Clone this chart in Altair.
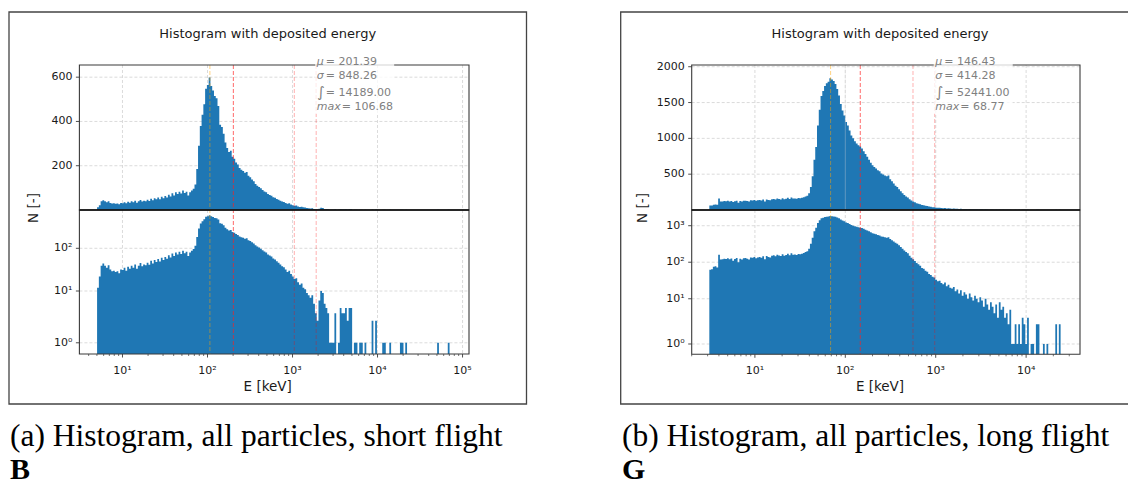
import altair as alt
import numpy as np
import pandas as pd

# ---------------- data ----------------
left_counts = [
    12, 22, 39, 44, 39, 35, 40, 32, 29, 30,
    28, 29, 26, 32, 31, 35, 30, 37, 33, 39,
    35, 42, 33, 39, 45, 38, 42, 40, 46, 41,
    51, 44, 53, 48, 56, 49, 60, 53, 63, 57,
    69, 61, 76, 66, 80, 72, 83, 74, 88, 77,
    83, 66, 80, 88, 96, 115, 185, 290, 380, 430,
    478, 548, 565, 598, 560, 540, 515, 505, 470, 385,
    375, 345, 305, 280, 262, 268, 240, 232, 215, 205,
    190, 182, 176, 168, 172, 155, 148, 138, 130, 118,
    110, 104, 98, 90, 84, 80, 72, 68, 64, 58,
    55, 50, 46, 42, 38, 36, 32, 28, 30, 25,
    22, 19, 20, 16, 14, 15, 12, 11, 9, 8,
    7, 8, 5, 3, 2, 6, 10, 9, 5, 4,
    3, 1, 1, 1, 3, 0, 1, 4, 3, 3,
    4, 2, 4, 4, 0, 1, 1, 0, 1, 1,
    0, 1, 0, 0, 0, 2, 0, 2, 0, 0,
    0, 1, 1, 0, 0, 1, 0, 0, 0, 0,
    0, 1, 1, 0, 1, 0, 0, 0, 0, 0,
    0, 0, 0, 0, 0, 0, 0, 0, 0, 0,
    0, 0, 1, 0, 0, 0, 0, 0, 1, 0,
]
right_counts = [
    62, 64, 75, 78, 72, 160, 118, 120, 125, 122,
    128, 120, 126, 110, 122, 130, 100, 125, 118, 128,
    130, 125, 118, 135, 132, 140, 128, 135, 140, 132,
    145, 120, 148, 140, 135, 150, 155, 145, 160, 152,
    148, 165, 150, 158, 170, 155, 175, 160, 162, 158,
    168, 165, 172, 178, 190, 200, 235, 320, 470, 700,
    880, 1180, 1400, 1590, 1660, 1730, 1770, 1790, 1840, 1820,
    1800, 1760, 1690, 1600, 1480, 1390, 1320, 1230, 1180, 1110,
    1040, 1000, 960, 930, 905, 885, 860, 820, 780, 745,
    700, 660, 625, 600, 580, 555, 540, 510, 495, 480,
    470, 480, 430, 400, 370, 340, 320, 290, 260, 235,
    210, 190, 175, 150, 132, 120, 108, 95, 88, 80,
    70, 66, 58, 55, 48, 45, 40, 38, 33, 30,
    31, 27, 25, 28, 22, 24, 20, 19, 21, 16,
    18, 14, 17, 12, 15, 13, 10, 14, 11, 9,
    12, 10, 8, 11, 9, 6, 10, 7, 5, 8,
    6, 4, 7, 3, 8, 5, 6, 3, 4, 2,
    5, 1, 1, 2, 1, 2, 1, 3, 2, 1,
    3, 0, 1, 1, 0, 2, 2, 0, 0, 1,
    0, 1, 0, 0, 0, 0, 2, 0, 2, 0,
]
# histogram binning: log10(E / keV) of first and last bin edge, 200 bins
left_log_range = [0.701, 4.868]
right_log_range = [0.496, 4.401]
N_BINS = 200

# mu, sigma, integral, max
left_stats = [201.39, 848.26, 14189.00, 106.68]
right_stats = [146.43, 414.28, 52441.00, 68.77]

left_x_exps = [1, 2, 3, 4, 5]
right_x_exps = [1, 2, 3, 4]
left_top_yticks = [200, 400, 600]
right_top_yticks = [500, 1000, 1500, 2000]
left_log_yticks = [1, 10, 100]
right_log_yticks = [1, 10, 100, 1000]
right_extra_line = [100]   # light grey marker line in the long-flight panel

title_text = "Histogram with deposited energy"
xlabel_text = "E [keV]"
ylabel_text = "N [-]"
captions = ["(a) Histogram, all particles, short flight",
            "(b) Histogram, all particles, long flight"]
letters = ["B", "G"]

SUP = {0: "\u2070", 1: "\u00b9", 2: "\u00b2", 3: "\u00b3", 4: "\u2074", 5: "\u2075"}

# ---------------- layout (pixels) ----------------
W, H = 1128, 484
PANELS = [
    dict(frame=(9, 12, 526.5, 404), px=(79.4, 469.0), xdom=(0.493, 5.076),
         ytop=(65, 210), ybot=(210, 354), topdom=655, L=1.6, tdom=(0.432, 3.804),
         center=267.7, ylab_x=33.8, cap_x=10),
    dict(frame=(620.7, 12, 1140, 404), px=(691.7, 1080.0), xdom=(0.301, 4.596),
         ytop=(65, 210), ybot=(210, 354.3), topdom=2024, L=1.8, tdom=(0.335, 4.286),
         center=880, ylab_x=643.3, cap_x=622),
]

BLUE = "#1f77b4"
GRID = "#d2d2d2"
SPINE = "#3a3a3a"
FONT = "DejaVu Sans"
SERIF = "Liberation Serif"
TICK_FS = 11


def one_row():
    return pd.DataFrame({"k": [0]})


def text_layer(txt, x, y, size, color="#1a1a1a", align="left", baseline="middle",
               font=FONT, style="normal", weight="normal", angle=0):
    kw = dict(text=txt, fontSize=size, color=color, align=align, baseline=baseline,
              font=font, fontStyle=style, fontWeight=weight)
    if angle:
        kw["angle"] = angle
    return alt.Chart(one_row()).mark_text(**kw).encode(x=alt.value(x), y=alt.value(y))


def rect_layer(x0, y0, x1, y1, stroke, sw, fill="white", fill_op=0.0, stroke_op=1.0):
    return alt.Chart(one_row()).mark_rect(
        fill=fill, fillOpacity=fill_op, stroke=stroke, strokeWidth=sw, strokeOpacity=stroke_op
    ).encode(x=alt.value(x0), x2=alt.value(x1), y=alt.value(y0), y2=alt.value(y1))


def t_expr(L, floor=None):
    c = 10.0 / 9.0
    core = f"(datum.n <= {L} ? datum.n / {L} * {c} : {c} + log(datum.n / {L}) / LN10)"
    if floor is None:
        return core
    return f"datum.n > 0 ? {core} : {floor}"


def build_panel(counts, log_range, stats, g, xexps, topticks, logticks, idx, extra=None):
    layers = []
    px0, px1 = g["px"]
    yt0, yt1 = g["ytop"]
    yb0, yb1 = g["ybot"]
    xs = alt.Scale(type="log", domain=[10 ** g["xdom"][0], 10 ** g["xdom"][1]],
                   range=[px0, px1], nice=False, zero=False)
    ys_top = alt.Scale(type="linear", domain=[0, g["topdom"]], range=[yt1, yt0],
                       nice=False, zero=False)
    ys_bot = alt.Scale(type="linear", domain=list(g["tdom"]), range=[yb1, yb0],
                       nice=False, zero=False)

    def px_of(E):
        return px0 + (np.log10(E) - g["xdom"][0]) / (g["xdom"][1] - g["xdom"][0]) * (px1 - px0)

    # histogram as a step outline: value of bin i holds from edge i to edge i+1
    edges = np.logspace(log_range[0], log_range[1], N_BINS + 1)
    hist = pd.DataFrame({"e": edges, "n": list(counts) + [0]})

    decades = pd.DataFrame({"E": [10.0 ** e for e in xexps],
                            "lab": ["10" + SUP[e] for e in xexps]})
    lo, hi = 10 ** g["xdom"][0], 10 ** g["xdom"][1]
    minors = pd.DataFrame({"E": [m * 10.0 ** d for d in range(0, 6) for m in range(2, 10)
                                 if lo <= m * 10.0 ** d <= hi]})
    top_t = pd.DataFrame({"v": topticks, "lab": [str(v) for v in topticks]})
    log_t = pd.DataFrame({"n": logticks,
                          "lab": ["10" + SUP[int(round(np.log10(v)))] for v in logticks]})

    # grid
    layers.append(alt.Chart(decades).mark_rule(color=GRID, strokeWidth=0.8, strokeDash=[3, 2]).encode(
        x=alt.X("E:Q", scale=xs, axis=None), y=alt.value(yt0), y2=alt.value(yb1)))
    layers.append(alt.Chart(top_t).mark_rule(color=GRID, strokeWidth=0.8, strokeDash=[3, 2]).encode(
        y=alt.Y("v:Q", scale=ys_top, axis=None), x=alt.value(px0), x2=alt.value(px1)))
    layers.append(alt.Chart(log_t).transform_calculate(t=t_expr(g["L"])).mark_rule(
        color=GRID, strokeWidth=0.8, strokeDash=[3, 2]).encode(
        y=alt.Y("t:Q", scale=ys_bot, axis=None), x=alt.value(px0), x2=alt.value(px1)))

    # histogram, linear top panel
    layers.append(alt.Chart(hist).mark_area(color=BLUE, interpolate="step-after", opacity=1).encode(
        x=alt.X("e:Q", scale=xs, axis=None),
        y=alt.Y("n:Q", scale=ys_top, axis=None), y2=alt.datum(0)))
    # histogram, log bottom panel
    layers.append(alt.Chart(hist).transform_calculate(t=t_expr(g["L"], g["tdom"][0])).mark_area(
        color=BLUE, interpolate="step-after", opacity=1).encode(
        x=alt.X("e:Q", scale=xs, axis=None),
        y=alt.Y("t:Q", scale=ys_bot, axis=None), y2=alt.datum(g["tdom"][0])))

    if extra:
        layers.append(alt.Chart(pd.DataFrame({"E": extra})).mark_rule(
            color="#d8d8d8", opacity=0.35, strokeWidth=1.0).encode(
            x=alt.X("E:Q", scale=xs, axis=None), y=alt.value(yt0), y2=alt.value(yt1)))

    mu, sigma, integ, mx = stats
    # statistic lines
    layers.append(alt.Chart(pd.DataFrame({"E": [mx]})).mark_rule(
        color="#ffa500", opacity=0.55, strokeWidth=0.9, strokeDash=[4, 2]).encode(
        x=alt.X("E:Q", scale=xs, axis=None), y=alt.value(yt0), y2=alt.value(yb1)))
    layers.append(alt.Chart(pd.DataFrame({"E": [mu + sigma, mu + 2 * sigma]})).mark_rule(
        color="#ff0000", opacity=0.35, strokeWidth=0.9, strokeDash=[4, 2]).encode(
        x=alt.X("E:Q", scale=xs, axis=None), y=alt.value(yt0), y2=alt.value(yb1)))
    layers.append(alt.Chart(pd.DataFrame({"E": [mu]})).mark_rule(
        color="#ff2020", opacity=0.75, strokeWidth=0.9, strokeDash=[4, 2]).encode(
        x=alt.X("E:Q", scale=xs, axis=None), y=alt.value(yt0), y2=alt.value(yb1)))

    # spines
    layers.append(rect_layer(px0, yt0, px1, yt1, SPINE, 1.1))
    layers.append(rect_layer(px0, yb0, px1, yb1, SPINE, 1.1))
    layers.append(alt.Chart(one_row()).mark_rule(color="#111111", strokeWidth=1.3).encode(
        x=alt.value(px0), x2=alt.value(px1), y=alt.value(yt1)))

    # ticks
    layers.append(alt.Chart(decades).mark_rule(color=SPINE, strokeWidth=0.9).encode(
        x=alt.X("E:Q", scale=xs, axis=None), y=alt.value(yb1), y2=alt.value(yb1 + 3.5)))
    layers.append(alt.Chart(minors).mark_rule(color=SPINE, strokeWidth=0.7).encode(
        x=alt.X("E:Q", scale=xs, axis=None), y=alt.value(yb1), y2=alt.value(yb1 + 2)))
    layers.append(alt.Chart(top_t).mark_rule(color=SPINE, strokeWidth=0.9).encode(
        y=alt.Y("v:Q", scale=ys_top, axis=None), x=alt.value(px0 - 3.5), x2=alt.value(px0)))
    layers.append(alt.Chart(log_t).transform_calculate(t=t_expr(g["L"])).mark_rule(
        color=SPINE, strokeWidth=0.9).encode(
        y=alt.Y("t:Q", scale=ys_bot, axis=None), x=alt.value(px0 - 3.5), x2=alt.value(px0)))

    # tick labels
    layers.append(alt.Chart(decades).mark_text(font=FONT, fontSize=TICK_FS, color="#1a1a1a",
                                               baseline="alphabetic", align="center").encode(
        x=alt.X("E:Q", scale=xs, axis=None), y=alt.value(yb1 + 19.5), text="lab:N"))
    layers.append(alt.Chart(top_t).mark_text(font=FONT, fontSize=TICK_FS, color="#1a1a1a",
                                             baseline="middle", align="right").encode(
        y=alt.Y("v:Q", scale=ys_top, axis=None), x=alt.value(px0 - 7), text="lab:N"))
    layers.append(alt.Chart(log_t).transform_calculate(t=t_expr(g["L"])).mark_text(
        font=FONT, fontSize=TICK_FS, color="#1a1a1a", baseline="middle", align="right").encode(
        y=alt.Y("t:Q", scale=ys_bot, axis=None), x=alt.value(px0 - 7), text="lab:N"))

    # annotation box and text
    bx = px_of(mu + 2 * sigma)
    layers.append(rect_layer(bx - 1, 53, bx + 78, 114, "white", 0, fill="white", fill_op=0.78,
                             stroke_op=0))
    grey = "#808080"
    layers.append(text_layer("\u03bc", bx + 0.5, 61.7, 11, color=grey, style="italic"))
    layers.append(text_layer("= " + f"{mu:.2f}", bx + 9.5, 61.7, 11, color=grey))
    layers.append(text_layer("\u03c3", bx + 0.5, 75.7, 11, color=grey, style="italic"))
    layers.append(text_layer("= " + f"{sigma:.2f}", bx + 9.5, 75.7, 11, color=grey))
    layers.append(text_layer("\u222b", bx + 1.0, 92.8, 14.5, color=grey))
    layers.append(text_layer("= " + f"{integ:.2f}", bx + 9.5, 93.3, 11, color=grey))
    layers.append(text_layer("max", bx + 0.5, 107.3, 11, color=grey, style="italic"))
    layers.append(text_layer("= " + f"{mx:.2f}", bx + 25.5, 107.3, 11, color=grey))

    # figure texts
    fx0, fy0, fx1, fy1 = g["frame"]
    layers.append(text_layer(title_text, g["center"], 33.5, 13, align="center"))
    layers.append(text_layer(xlabel_text, g["center"], 386.5, 13.5, align="center"))
    layers.append(text_layer(ylabel_text, g["ylab_x"], (fy0 + fy1) / 2, 13.5, align="center",
                             angle=270))
    layers.append(rect_layer(fx0, fy0, fx1, fy1, "#444444", 1.3))

    # caption
    layers.append(text_layer(captions[idx], g["cap_x"], 446, 31.5, color="#000000",
                             baseline="alphabetic", font=SERIF))
    layers.append(text_layer(letters[idx], g["cap_x"], 479, 30, color="#000000",
                             baseline="alphabetic", font=SERIF, weight="bold"))
    return layers


all_layers = []
all_layers += build_panel(left_counts, left_log_range, left_stats, PANELS[0], left_x_exps,
                          left_top_yticks, left_log_yticks, 0)
all_layers += build_panel(right_counts, right_log_range, right_stats, PANELS[1], right_x_exps,
                          right_top_yticks, right_log_yticks, 1, extra=right_extra_line)

chart = alt.layer(*all_layers).resolve_scale(
    x="independent", y="independent"
).properties(
    width=W, height=H, padding=0, background="white",
    autosize=alt.AutoSizeParams(type="none"),
).configure_view(stroke=None)

chart.save("out.html", embed_options={"renderer": "svg", "actions": False})
